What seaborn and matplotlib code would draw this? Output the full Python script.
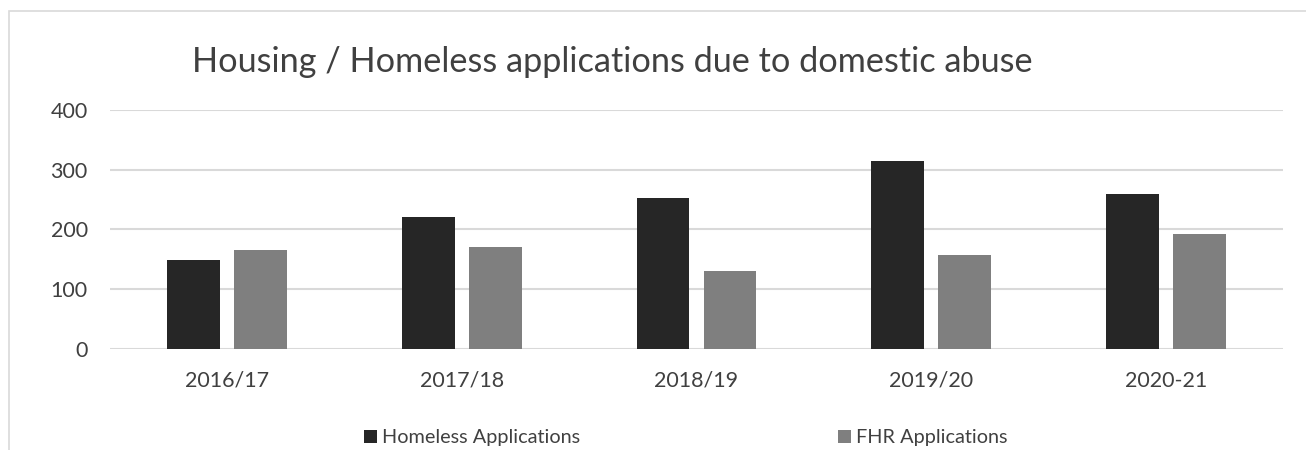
import matplotlib
matplotlib.use("Agg")
import matplotlib.pyplot as plt
from matplotlib.patches import Rectangle
import pandas as pd
import seaborn as sns

# Applications per year, by route
years = ["2016/17", "2017/18", "2018/19", "2019/20", "2020-21"]
homeless_applications = [148, 221, 253, 315, 260]
fhr_applications = [165, 171, 131, 157, 192]
series_names = ["Homeless Applications", "FHR Applications"]
y_ticks = [0, 100, 200, 300, 400]

df = pd.DataFrame({
    "year": years * 2,
    "count": homeless_applications + fhr_applications,
    "series": [series_names[0]] * len(years) + [series_names[1]] * len(years),
})

sns.set_theme(style="white")
plt.rcParams["font.family"] = ["Lato", "DejaVu Sans"]

TEXT = "#404040"
GRID = "#d9d9d9"
W, H = 1306, 450

fig = plt.figure(figsize=(W / 100, H / 100), dpi=100)
ax = fig.add_axes([110 / W, 1 - 348.7 / H, (1283 - 110) / W, (348.7 - 110) / H])

sns.barplot(
    data=df, x="year", y="count", hue="series", hue_order=series_names,
    palette=["#262626", "#7f7f7f"], width=0.571, gap=0.21,
    linewidth=0, ax=ax, legend=True,
)

ax.set_ylim(0, 400)
ax.set_yticks(y_ticks)
ax.set_xlim(-0.5, len(years) - 0.5)
ax.set_xlabel("")
ax.set_ylabel("")
ax.yaxis.grid(True, color=GRID, linewidth=1.5)
ax.set_axisbelow(True)
for side in ["top", "right", "left", "bottom"]:
    ax.spines[side].set_visible(False)
ax.tick_params(axis="both", length=0, colors=TEXT, labelsize=15.5)
ax.tick_params(axis="y", pad=16)
ax.tick_params(axis="x", pad=16)

handles, labels = ax.get_legend_handles_labels()
ax.get_legend().remove()
fig.legend(
    handles, labels, loc="center left", bbox_to_anchor=(364 / W, 1 - 438 / H),
    ncol=2, frameon=False, fontsize=14.3, labelcolor=TEXT,
    handlelength=0.65, handleheight=0.65, handletextpad=0.25,
    columnspacing=13.0, borderpad=0, borderaxespad=0,
)

fig.text(612 / W, 1 - 62 / H, "Housing / Homeless applications due to domestic abuse",
         ha="center", va="center", fontsize=24.7, color=TEXT)

# Light chart-area frame
fig.patches.append(Rectangle((9 / W, -0.1), 1.2, 1 - 11.5 / H + 0.1,
                             transform=fig.transFigure, fill=False,
                             edgecolor=GRID, linewidth=1.2))

fig.savefig("out.png", dpi=100)
